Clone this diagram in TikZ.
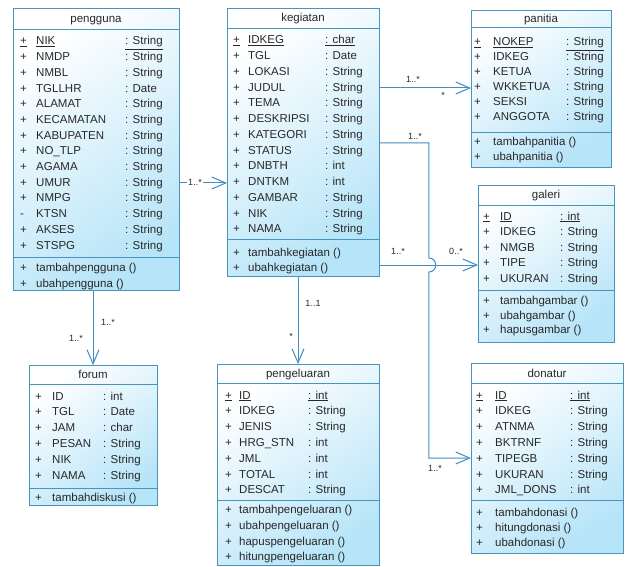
\documentclass[tikz,border=0pt]{standalone}
\usepackage{fontspec}
\setmainfont{Liberation Sans}
\usetikzlibrary{arrows.meta,calc}
\definecolor{umlline}{RGB}{64,140,195}
\definecolor{umlborder}{RGB}{72,148,188}
\definecolor{umlfill}{RGB}{182,228,248}
\definecolor{umltext}{RGB}{40,40,40}
\tikzset{
  classbox/.style={draw=umlborder, line width=0.9pt, rectangle, inner sep=0pt,
    anchor=north west, top color=white, bottom color=umlfill, shading angle=35},
  attr/.style={anchor=base west, inner sep=0pt, text=umltext, font=\fontsize{11.5}{13}\selectfont},
  classtitle/.style={anchor=base, inner sep=0pt, text=umltext, font=\fontsize{11.5}{13}\selectfont},
  mult/.style={inner sep=0pt, text=umltext, font=\fontsize{9}{10}\selectfont},
  sepline/.style={draw=umlborder, line width=0.9pt},
  assoc/.style={draw=umlline, line width=1pt, -{Straight Barb[length=14pt,width=12pt]}},
}
\begin{document}
\begin{tikzpicture}[x=1pt,y=-1pt]
	\useasboundingbox (0,0) rectangle (627,567);

	% pengguna
	\node[classbox, minimum width=166pt, minimum height=282pt] (pengguna) at (13,8) {};
	\draw[sepline] (13,29) -- (179,29);
	\draw[sepline] (13,257) -- (179,257);
	\node[classtitle] (pg-t) at (96,23) {pengguna};
	\node[attr] (pg-v0) at (20,45) {\underline{+}};
	\node[attr] (pg-n0) at (36,45) {\underline{NIK}};
	\node[attr] (pg-y0) at (125,45) {\underline{: String}};
	\foreach \v/\n/\t [count=\i] in {+/NMDP/String, +/NMBL/String, +/TGLLHR/Date,
		+/ALAMAT/String, +/KECAMATAN/String, +/KABUPATEN/String, +/NO\_TLP/String,
		+/AGAMA/String, +/UMUR/String, +/NMPG/String, -/KTSN/String,
		+/AKSES/String, +/STSPG/String} {
		\node[attr] (pg-v\i) at (20,{45+15.7*\i}) {\v};
		\node[attr] (pg-n\i) at (36,{45+15.7*\i}) {\n};
		\node[attr] (pg-y\i) at (125,{45+15.7*\i}) {: \t};
	}
	\node[attr] (pg-m1) at (20,271) {+};
	\node[attr] (pg-o1) at (36,271) {tambahpengguna ()};
	\node[attr] (pg-m2) at (20,287) {+};
	\node[attr] (pg-o2) at (36,287) {ubahpengguna ()};

	% kegiatan
	\node[classbox, minimum width=152pt, minimum height=268pt] (kegiatan) at (227,8) {};
	\draw[sepline] (227,28) -- (379,28);
	\draw[sepline] (227,239) -- (379,239);
	\node[classtitle] (kg-t) at (303,22) {kegiatan};
	\node[attr] (kg-v0) at (233,44) {\underline{+}};
	\node[attr] (kg-n0) at (248,44) {\underline{IDKEG}};
	\node[attr] (kg-y0) at (325,44) {\underline{: char}};
	\foreach \v/\n/\t [count=\i] in {+/TGL/Date, +/LOKASI/String, +/JUDUL/String,
		+/TEMA/String, +/DESKRIPSI/String, +/KATEGORI/String, +/STATUS/String,
		+/DNBTH/int, +/DNTKM/int, +/GAMBAR/String, +/NIK/String, +/NAMA/String} {
		\node[attr] (kg-v\i) at (233,{44+15.75*\i}) {\v};
		\node[attr] (kg-n\i) at (248,{44+15.75*\i}) {\n};
		\node[attr] (kg-y\i) at (325,{44+15.75*\i}) {: \t};
	}
	\node[attr] (kg-m1) at (233,256) {+};
	\node[attr] (kg-o1) at (248,256) {tambahkegiatan ()};
	\node[attr] (kg-m2) at (233,271) {+};
	\node[attr] (kg-o2) at (248,271) {ubahkegiatan ()};

	% panitia
	\node[classbox, minimum width=140pt, minimum height=157pt] (panitia) at (471,10) {};
	\draw[sepline] (471,27) -- (611,27);
	\draw[sepline] (471,132) -- (611,132);
	\node[classtitle] (pn-t) at (541,22.5) {panitia};
	\node[attr] (pn-v0) at (474,46) {\underline{+}};
	\node[attr] (pn-n0) at (493,46) {\underline{NOKEP}};
	\node[attr] (pn-y0) at (566,46) {\underline{: String}};
	\foreach \v/\n/\t [count=\i] in {+/IDKEG/String, +/KETUA/String, +/WKKETUA/String,
		+/SEKSI/String, +/ANGGOTA/String} {
		\node[attr] (pn-v\i) at (474,{46+15*\i}) {\v};
		\node[attr] (pn-n\i) at (493,{46+15*\i}) {\n};
		\node[attr] (pn-y\i) at (566,{46+15*\i}) {: \t};
	}
	\node[attr] (pn-m1) at (474,146) {+};
	\node[attr] (pn-o1) at (493,146) {tambahpanitia ()};
	\node[attr] (pn-m2) at (474,161) {+};
	\node[attr] (pn-o2) at (493,161) {ubahpanitia ()};

	% galeri
	\node[classbox, minimum width=136pt, minimum height=157pt] (galeri) at (478,185) {};
	\draw[sepline] (478,205) -- (614,205);
	\draw[sepline] (478,290) -- (614,290);
	\node[classtitle] (gl-t) at (546,199) {galeri};
	\node[attr] (gl-v0) at (483,220) {\underline{+}};
	\node[attr] (gl-n0) at (500,220) {\underline{ID}};
	\node[attr] (gl-y0) at (560,220) {\underline{: int}};
	\foreach \v/\n/\t [count=\i] in {+/IDKEG/String, +/NMGB/String, +/TIPE/String,
		+/UKURAN/String} {
		\node[attr] (gl-v\i) at (483,{220+15.6*\i}) {\v};
		\node[attr] (gl-n\i) at (500,{220+15.6*\i}) {\n};
		\node[attr] (gl-y\i) at (560,{220+15.6*\i}) {: \t};
	}
	\foreach \o [count=\i] in {tambahgambar (), ubahgambar (), hapusgambar ()} {
		\node[attr] (gl-m\i) at (483,{290+14.5*\i}) {+};
		\node[attr] (gl-o\i) at (500,{290+14.5*\i}) {\o};
	}

	% donatur
	\node[classbox, minimum width=152pt, minimum height=190pt] (donatur) at (471,363) {};
	\draw[sepline] (471,383) -- (623,383);
	\draw[sepline] (471,500) -- (623,500);
	\node[classtitle] (dn-t) at (547,377) {donatur};
	\node[attr] (dn-v0) at (476,399) {\underline{+}};
	\node[attr] (dn-n0) at (495,399) {\underline{ID}};
	\node[attr] (dn-y0) at (570,399) {\underline{: int}};
	\foreach \v/\n/\t [count=\i] in {+/IDKEG/String, +/ATNMA/String, +/BKTRNF/String,
		+/TIPEGB/String, +/UKURAN/String, +/JML\_DONS/int} {
		\node[attr] (dn-v\i) at (476,{399+15.8*\i}) {\v};
		\node[attr] (dn-n\i) at (495,{399+15.8*\i}) {\n};
		\node[attr] (dn-y\i) at (570,{399+15.8*\i}) {: \t};
	}
	\foreach \o [count=\i] in {tambahdonasi (), hitungdonasi (), ubahdonasi ()} {
		\node[attr] (dn-m\i) at (476,{501+15*\i}) {+};
		\node[attr] (dn-o\i) at (495,{501+15*\i}) {\o};
	}

	% forum
	\node[classbox, minimum width=128pt, minimum height=140pt] (forum) at (29,365) {};
	\draw[sepline] (29,384) -- (157,384);
	\draw[sepline] (29,488) -- (157,488);
	\node[classtitle] (fr-t) at (93,378.5) {forum};
	\foreach \v/\n/\t [count=\i from 0] in {+/ID/int, +/TGL/Date, +/JAM/char,
		+/PESAN/String, +/NIK/String, +/NAMA/String} {
		\node[attr] (fr-v\i) at (35,{400+15.8*\i}) {\v};
		\node[attr] (fr-n\i) at (52,{400+15.8*\i}) {\n};
		\node[attr] (fr-y\i) at (103,{400+15.8*\i}) {: \t};
	}
	\node[attr] (fr-m1) at (35,501) {+};
	\node[attr] (fr-o1) at (52,501) {tambahdiskusi ()};

	% pengeluaran
	\node[classbox, minimum width=162pt, minimum height=201pt] (pengeluaran) at (217,364) {};
	\draw[sepline] (217,383) -- (379,383);
	\draw[sepline] (217,500) -- (379,500);
	\node[classtitle] (pl-t) at (298,377.5) {pengeluaran};
	\node[attr] (pl-v0) at (225,399) {\underline{+}};
	\node[attr] (pl-n0) at (239,399) {\underline{ID}};
	\node[attr] (pl-y0) at (308,399) {\underline{: int}};
	\foreach \v/\n/\t [count=\i] in {+/IDKEG/String, +/JENIS/String, +/HRG\_STN/int,
		+/JML/int, +/TOTAL/int, +/DESCAT/String} {
		\node[attr] (pl-v\i) at (225,{399+15.83*\i}) {\v};
		\node[attr] (pl-n\i) at (239,{399+15.83*\i}) {\n};
		\node[attr] (pl-y\i) at (308,{399+15.83*\i}) {: \t};
	}
	\foreach \o [count=\i] in {tambahpengeluaran (), ubahpengeluaran (),
		hapuspengeluaran (), hitungpengeluaran ()} {
		\node[attr] (pl-m\i) at (225,{498+15.7*\i}) {+};
		\node[attr] (pl-o\i) at (239,{498+15.7*\i}) {\o};
	}

	% associations
	\coordinate (pgk) at ([yshift=-175pt]pengguna.north east);
	\draw[assoc] (pgk) -- (pgk -| kegiatan.west);
	\node[mult, fill=white, inner sep=1pt] (pgk-a) at (195,182) {1..*};

	\coordinate (kgp) at ([yshift=-80pt]kegiatan.north east);
	\draw[assoc] (kgp) -- (kgp -| panitia.west);
	\node[mult] (kgp-a) at (413,79) {1..*};
	\node[mult] (kgp-b) at (443,95) {*};

	\coordinate (kgd) at ([yshift=-135pt]kegiatan.north east);
	\coordinate (kgg) at ([yshift=-257pt]kegiatan.north east);
	\coordinate (dnw) at ([yshift=-95pt]donatur.north west);
	\draw[assoc] (kgd) -- ++(49,0) coordinate (bend)
		-- ($(bend |- kgg)+(0,-7)$) .. controls +(9,0) and +(9,0) .. ($(bend |- kgg)+(0,7)$)
		-- (bend |- dnw) -- (dnw);
	\node[mult] (kgd-a) at (415,136) {1..*};
	\node[mult] (kgd-b) at (435,468) {1..*};

	\draw[assoc] (kgg) -- (kgg -| galeri.west);
	\node[mult] (kgg-a) at (398,251) {1..*};
	\node[mult] (kgg-b) at (456,251) {0..*};

	\coordinate (pgf) at ([xshift=80pt]pengguna.south west);
	\draw[assoc] (pgf) -- (pgf |- forum.north);
	\node[mult] (pgf-a) at (108,322) {1..*};
	\node[mult] (pgf-b) at (76,338) {1..*};

	\coordinate (kgo) at ([xshift=71pt]kegiatan.south west);
	\draw[assoc] (kgo) -- (kgo |- pengeluaran.north);
	\node[mult] (kgo-a) at (313,303) {1..1};
	\node[mult] (kgo-b) at (291,336) {*};

\end{tikzpicture}
\end{document}
